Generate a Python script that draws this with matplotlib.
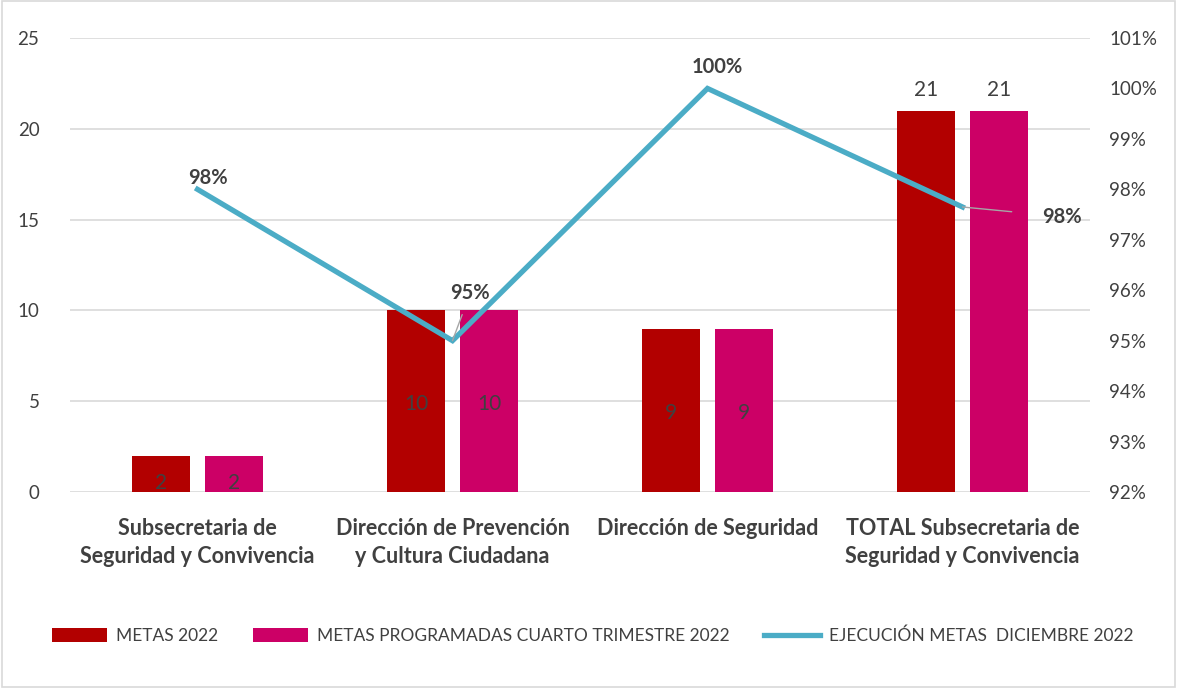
import matplotlib
matplotlib.use("Agg")
import matplotlib.pyplot as plt
import numpy as np
from matplotlib.patches import Rectangle
from matplotlib.ticker import FuncFormatter

plt.rcParams['font.family'] = ['Lato', 'DejaVu Sans']

categories = ["Subsecretaria de\nSeguridad y Convivencia",
              "Dirección de Prevención\ny Cultura Ciudadana",
              "Dirección de Seguridad",
              "TOTAL Subsecretaria de\nSeguridad y Convivencia"]
metas_2022 = [2, 10, 9, 21]
metas_programadas = [2, 10, 9, 21]
ejecucion = [0.98, 0.95, 1.00, 0.9765]

series_names = ["METAS 2022", "METAS PROGRAMADAS CUARTO TRIMESTRE 2022",
                "EJECUCIÓN METAS  DICIEMBRE 2022"]
left_ticks = [0, 5, 10, 15, 20, 25]
right_ticks = [0.92, 0.93, 0.94, 0.95, 0.96, 0.97, 0.98, 0.99, 1.00, 1.01]

c_red = "#B20000"
c_pink = "#CC0066"
c_line = "#4BACC6"
c_text = "#404040"

fig = plt.figure(figsize=(11.77, 6.88), dpi=100)
fig.patches.append(Rectangle((0.002, 0.002), 0.996, 0.996, transform=fig.transFigure,
                             fill=False, edgecolor="#D9D9D9", linewidth=1.2))
ax = fig.add_axes([70/1177, 1-492/688, 1020/1177, 454/688])
x = np.arange(len(categories))
w = 0.224
off = 0.143
b1 = ax.bar(x - off, metas_2022, w, color=c_red, label=series_names[0], zorder=2)
b2 = ax.bar(x + off, metas_programadas, w, color=c_pink, label=series_names[1], zorder=2)
ax.set_xlim(-0.5, len(categories) - 0.5)
ax.set_ylim(0, 25)
ax.set_yticks(left_ticks)
ax.grid(axis='y', color="#D9D9D9", linewidth=1.2, zorder=0)
ax.set_axisbelow(True)
for s in ax.spines.values():
    s.set_visible(False)
ax.tick_params(axis='both', length=0, colors=c_text, labelsize=13.5)
ax.tick_params(axis='y', pad=22)
ax.set_xticks(x)
ax.set_xticklabels(categories, fontsize=15.5, fontweight='bold', color=c_text, linespacing=1.4)
ax.tick_params(axis='x', pad=19)

for bars, vals in ((b1, metas_2022), (b2, metas_programadas)):
    for rect, v in zip(bars, vals):
        cx = rect.get_x() + rect.get_width() / 2
        if v >= 15:
            ax.text(cx, v + 0.6, f"{v}", ha='center', va='bottom', fontsize=15, color=c_text)
        else:
            ax.text(cx, v / 2 - 0.15 if v > 3 else 0.5, f"{v}", ha='center', va='center',
                    fontsize=15, color=c_text)

ax2 = ax.twinx()
ax2.set_ylim(0.92, 1.01)
ax2.set_yticks(right_ticks)
ax2.yaxis.set_major_formatter(FuncFormatter(lambda v, p: f"{round(v*100):d}%"))
ax2.tick_params(axis='y', length=0, colors=c_text, labelsize=13.5, pad=14)
for s in ax2.spines.values():
    s.set_visible(False)
ln, = ax2.plot(x, ejecucion, color=c_line, linewidth=3.8, solid_joinstyle='miter',
               label=series_names[2], zorder=3)

lab_kw = dict(fontsize=14.5, fontweight='bold', color=c_text, ha='center', va='center')
ax2.text(x[0] + 0.04, ejecucion[0] + 0.0022, f"{round(ejecucion[0]*100)}%", **lab_kw)
ax2.annotate(f"{round(ejecucion[1]*100)}%", xy=(x[1], ejecucion[1]), xytext=(x[1] + 0.07, ejecucion[1] + 0.0095),
             arrowprops=dict(arrowstyle='-', color="#A6A6A6", lw=1, shrinkA=7, shrinkB=0), **lab_kw)
ax2.text(x[2] + 0.04, ejecucion[2] + 0.0042, f"{round(ejecucion[2]*100)}%", **lab_kw)
ax2.annotate(f"{round(ejecucion[3]*100)}%", xy=(x[3], ejecucion[3]), xytext=(x[3] + 0.39, ejecucion[3] - 0.0019),
             arrowprops=dict(arrowstyle='-', color="#A6A6A6", lw=1, shrinkA=20, shrinkB=0), **lab_kw)

handles = [b1, b2, ln]
leg = fig.legend(handles, series_names, loc='center left', bbox_to_anchor=(36/1177, 1-636/688),
                 ncol=3, frameon=False, fontsize=12.5, handlelength=3.2, handleheight=0.9,
                 columnspacing=2.0, handletextpad=0.5, labelcolor=c_text)

fig.savefig("out.png", dpi=100)
